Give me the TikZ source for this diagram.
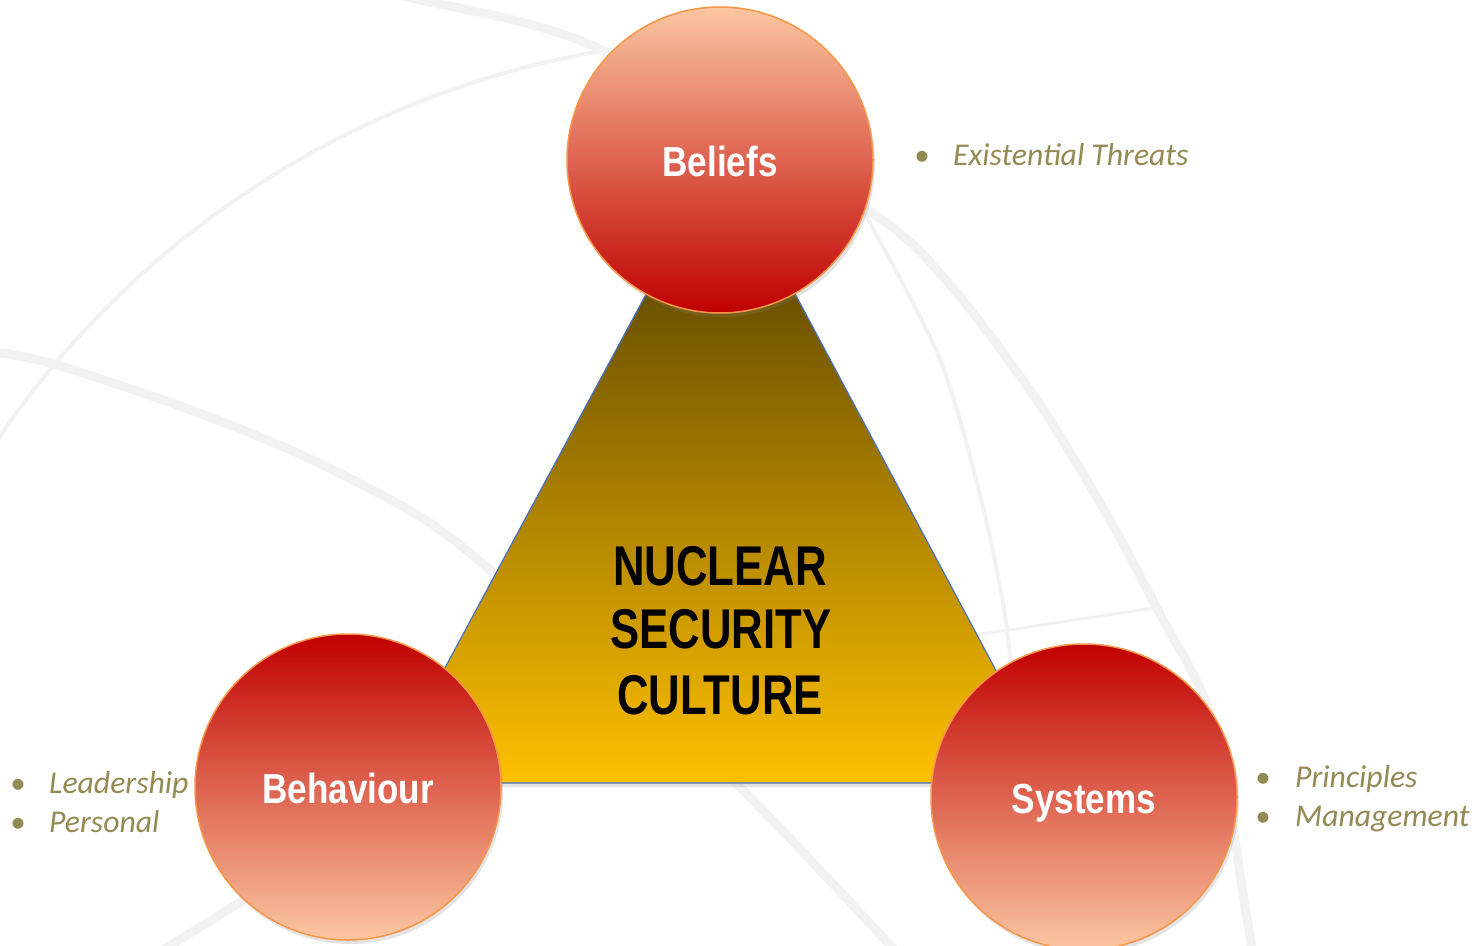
\documentclass[tikz,border=0pt]{standalone}
\usepackage{fontspec}
\setmainfont{Liberation Sans}
\newfontfamily\labfont{Liberation Sans}[FakeStretch=0.835]
\newfontfamily\nscfont{Liberation Sans}[FakeStretch=0.78]
\newfontfamily\itfont{Carlito}
\usetikzlibrary{shadows}
\definecolor{olivetext}{RGB}{148,138,84}
\definecolor{bggray}{RGB}{242,242,242}
\definecolor{peach}{RGB}{251,198,160}
\definecolor{deepred}{RGB}{192,0,0}
\definecolor{ballline}{RGB}{247,150,70}
\definecolor{triline}{RGB}{68,114,196}
\definecolor{tritop}{RGB}{66,50,0}
\definecolor{trimid}{RGB}{168,128,0}
\definecolor{tribot}{RGB}{255,192,0}
\begin{document}
\begin{tikzpicture}[x=1pt,y=-1pt,
  thickarc/.style={draw=bggray, line width=9pt},
  thinarc/.style={draw=bggray, line width=4pt},
  ball/.style={circle, minimum size=306pt, inner sep=0pt, draw=ballline, line width=1.5pt,
    drop shadow={opacity=0.22, shadow xshift=2pt, shadow yshift=-4pt},
    text=white, font=\labfont\bfseries\fontsize{42}{48}\selectfont,
    text height=32pt, text depth=0pt},
  topball/.style={ball, top color=peach, bottom color=deepred},
  botball/.style={ball, top color=deepred, bottom color=peach},
  bullettext/.style={anchor=base west, inner sep=0pt, text=olivetext, font=\itfont\itshape\fontsize{31.7}{38}\selectfont},
  bulletdot/.style={anchor=base, inner sep=0pt, text=olivetext, font=\itfont\fontsize{31}{38}\selectfont},
  coretext/.style={anchor=base, inner sep=0pt, text=black, font=\nscfont\bfseries\fontsize{56}{64}\selectfont}
]
\useasboundingbox (0,0) rectangle (1482,945);
\fill[white] (0,0) rectangle (1482,945);

% background globe arcs
\draw[thickarc] plot[smooth] coordinates {(395,-4) (421,0) (600,49) (868,210) (951,286) (1038,402) (1106,513) (1161,616) (1205,700) (1228,800) (1244,900) (1253,955)};
\draw[thinarc] plot[domain=211:261, samples=80] ({755+915*cos(\x)},{953+915*sin(\x)});
\draw[thickarc] plot[smooth] coordinates {(-8,351) (57,365) (191,410) (306,457) (421,517) (494,573) (620,680) (736,783) (890,945) (900,960)};
\draw[thinarc] plot[smooth] coordinates {(860,205) (868,219) (939,357) (979,491) (1003,603) (1015,700) (1020,760)};
\draw[draw=bggray, line width=3pt] (975,635) -- (1160,607);
\draw[thickarc] (160,952) -- (255,893);

% triangle
\coordinate (apex) at (721,155);
\coordinate (bl) at (383,783);
\coordinate (br) at (1056,783);
\shade[top color=tritop, middle color=trimid, bottom color=tribot,
  drop shadow={opacity=0.22, shadow xshift=1pt, shadow yshift=-4pt}]
  (apex) -- (bl) -- (br) -- cycle;
\draw[triline, line width=1.2pt, line join=round] (apex) -- (bl) -- (br) -- cycle;

% core text
\node[coretext] (nuc) at (720,585) {NUCLEAR};
\node[coretext] (sec) at (721,648) {SECURITY};
\node[coretext] (cul) at (720,714) {CULTURE};

% circles
\node[topball] (beliefs) at (720,160) {Beliefs};
\node[botball] (behaviour) at (348,787) {Behaviour};
\node[botball] (systems) at (1084,797) {Systems};

% bullet lists
\node[bulletdot] (b1) at (922,165) {•};
\node[bullettext] (t1) at (953,165) {Existential Threats};
\node[bulletdot] (b2) at (18,793) {•};
\node[bullettext] (t2) at (49,793) {Leadership};
\node[bulletdot] (b3) at (18,832) {•};
\node[bullettext] (t3) at (49,832) {Personal};
\node[bulletdot] (b4) at (1263,787) {•};
\node[bullettext] (t4) at (1295,787) {Principles};
\node[bulletdot] (b5) at (1263,826) {•};
\node[bullettext] (t5) at (1295,826) {Management};
\end{tikzpicture}
\end{document}
